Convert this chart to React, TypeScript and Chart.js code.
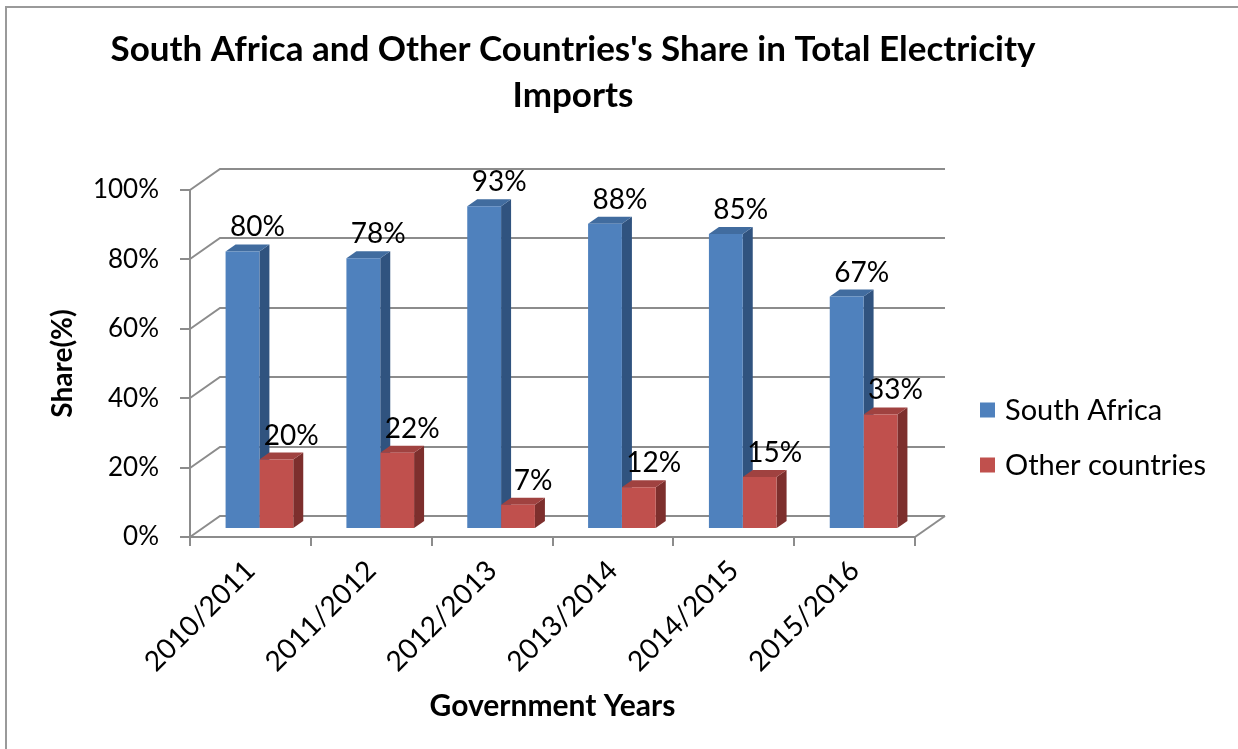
import React, { useEffect, useRef } from 'react';
import { Chart, registerables } from 'chart.js';

Chart.register(...registerables);

// ---- data ----
const categories = ['2010/2011', '2011/2012', '2012/2013', '2013/2014', '2014/2015', '2015/2016'];
const southAfrica = [80, 78, 93, 88, 85, 67];
const otherCountries = [20, 22, 7, 12, 15, 33];
const seriesNames = ['South Africa', 'Other countries'];
const titleLines = ["South Africa and Other Countries's Share in Total Electricity", 'Imports'];
const xTitle = 'Government Years';
const yTitle = 'Share(%)';

// ---- style ----
const W = 1238;
const H = 749;
const FONT = "Lato, 'Open Sans', sans-serif";
const GRID = '#8c8c8c';
const FRONT = ['#4F81BD', '#C0504D'];
const SIDE = ['#30537F', '#7D2F2D'];
const TOP = ['#416C9F', '#A04240'];
const WALL = { dx: 30, dy: -21 };
const SHIFT = { dx: 9, dy: -8 };
const BAR3D = { dx: 10, dy: -7 };

const threeD = {
  id: 'threeD',
  beforeDatasetsDraw(chart: any) {
    const { ctx, chartArea, scales } = chart;
    const y = scales.y;
    ctx.save();
    ctx.strokeStyle = GRID;
    ctx.lineWidth = 2;
    const left = chartArea.left;
    const right = chartArea.right;
    y.ticks.forEach((t: any) => {
      const py = Math.round(y.getPixelForValue(t.value));
      ctx.beginPath();
      ctx.moveTo(left, py);
      ctx.lineTo(left + WALL.dx, py + WALL.dy);
      ctx.lineTo(right + WALL.dx, py + WALL.dy);
      ctx.stroke();
    });
    const p0 = Math.round(y.getPixelForValue(0));
    ctx.beginPath();
    ctx.moveTo(right, p0);
    ctx.lineTo(right + WALL.dx, p0 + WALL.dy);
    ctx.stroke();

    ctx.translate(SHIFT.dx, SHIFT.dy);
    chart.data.datasets.forEach((_ds: any, di: number) => {
      const meta = chart.getDatasetMeta(di);
      meta.data.forEach((el: any) => {
        const { x: cx, y: top, base, width } = el.getProps(['x', 'y', 'base', 'width'], true);
        const l = cx - width / 2;
        const r = cx + width / 2;
        ctx.fillStyle = SIDE[di];
        ctx.beginPath();
        ctx.moveTo(r, base);
        ctx.lineTo(r + BAR3D.dx, base + BAR3D.dy);
        ctx.lineTo(r + BAR3D.dx, top + BAR3D.dy);
        ctx.lineTo(r, top);
        ctx.closePath();
        ctx.fill();
        ctx.fillStyle = TOP[di];
        ctx.beginPath();
        ctx.moveTo(l, top);
        ctx.lineTo(l + BAR3D.dx, top + BAR3D.dy);
        ctx.lineTo(r + BAR3D.dx, top + BAR3D.dy);
        ctx.lineTo(r, top);
        ctx.closePath();
        ctx.fill();
      });
    });
    ctx.restore();
    ctx.save();
    ctx.translate(SHIFT.dx, SHIFT.dy);
  },
  afterDatasetsDraw(chart: any) {
    const { ctx } = chart;
    ctx.restore();
    ctx.save();
    ctx.font = `28px ${FONT}`;
    ctx.fillStyle = '#000';
    ctx.textAlign = 'center';
    ctx.textBaseline = 'alphabetic';
    chart.data.datasets.forEach((ds: any, di: number) => {
      const meta = chart.getDatasetMeta(di);
      meta.data.forEach((el: any, i: number) => {
        const { x: cx, y: top } = el.getProps(['x', 'y'], true);
        ctx.fillText(`${ds.data[i]}%`, cx + SHIFT.dx + 15, top + SHIFT.dy - 15);
      });
    });
    ctx.restore();
  },
  afterDraw(chart: any) {
    const { ctx } = chart;
    ctx.save();
    ctx.font = `29px ${FONT}`;
    ctx.textBaseline = 'middle';
    ctx.textAlign = 'left';
    chart.data.datasets.forEach((ds: any, di: number) => {
      const cy = 410 + di * 55;
      ctx.fillStyle = ds.backgroundColor;
      ctx.fillRect(980, cy - 7.5, 15, 15);
      ctx.fillStyle = '#000';
      ctx.fillText(ds.label, 1005, cy + 1);
    });
    ctx.restore();
  },
};

export default function App() {
  const ref = useRef<HTMLCanvasElement>(null);
  useEffect(() => {
    const canvas = ref.current;
    if (!canvas) return;
    const chart = new Chart(canvas, {
      type: 'bar',
      data: {
        labels: categories,
        datasets: [
          { label: seriesNames[0], data: southAfrica, backgroundColor: FRONT[0], clip: false as any },
          { label: seriesNames[1], data: otherCountries, backgroundColor: FRONT[1], clip: false as any },
        ],
      },
      options: {
        responsive: false,
        animation: false,
        devicePixelRatio: 1,
        layout: { padding: { left: 0, right: 92, top: 0, bottom: 0 } },
        datasets: { bar: { categoryPercentage: 0.56, barPercentage: 1 } },
        plugins: {
          legend: { display: false },
          tooltip: { enabled: false },
          title: {
            display: true,
            text: titleLines,
            color: '#000',
            font: { family: FONT, size: 35, weight: 'bold', lineHeight: 1.3 },
            padding: { top: 27, bottom: 72 },
          },
        },
        scales: {
          x: {
            grid: { display: true, drawOnChartArea: false, drawTicks: true, tickLength: 9, color: GRID, lineWidth: 2, offset: true },
            border: { display: true, color: GRID, width: 2 },
            ticks: { color: '#000', font: { family: FONT, size: 28 }, minRotation: 45, maxRotation: 45, autoSkip: false, padding: 8 },
            title: { display: true, text: xTitle, color: '#000', font: { family: FONT, size: 30, weight: 'bold' }, padding: { top: 0, bottom: 25 } },
            afterFit: (s: any) => { s.height = 212; },
          },
          y: {
            min: 0,
            max: 100,
            grid: { display: true, drawOnChartArea: false, drawTicks: true, tickLength: 10, color: GRID, lineWidth: 2 },
            border: { display: true, color: GRID, width: 2 },
            ticks: { stepSize: 20, color: '#000', font: { family: FONT, size: 26 }, padding: 21, callback: (v: any) => `${v}%` },
            title: { display: true, text: yTitle, color: '#000', font: { family: FONT, size: 28, weight: 'bold' }, padding: { top: 46, bottom: 0 } },
            afterFit: (s: any) => { s.width = 190; },
          },
          yR: {
            type: 'linear',
            position: 'right',
            display: true,
            grid: { display: false },
            border: { display: false },
            ticks: { display: false },
            afterFit: (s: any) => { s.width = 231; },
          },
        },
      },
      plugins: [threeD],
    } as any);
    return () => chart.destroy();
  }, []);

  return (
    <div style={{ position: 'absolute', left: 0, top: 0, width: W, height: H, overflow: 'hidden', background: '#fff' }}>
      <div style={{ position: 'absolute', left: 5, top: 6, width: W + 10, height: H + 10, borderLeft: '2px solid #9a9a9a', borderTop: '2px solid #9a9a9a' }} />
      <canvas ref={ref} width={W} height={H} style={{ position: 'absolute', left: 0, top: 0, display: 'block' }} />
    </div>
  );
}
